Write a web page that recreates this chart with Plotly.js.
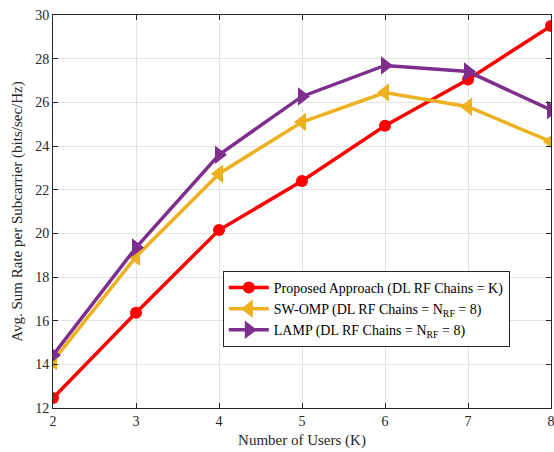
<!DOCTYPE html>
<html>
<head>
<meta charset="utf-8">
<script src="https://cdn.plot.ly/plotly-3.0.1.min.js"></script>
<style>html,body{margin:0;padding:0;background:#fff;}</style>
</head>
<body>
<div id="chart" style="width:554px;height:452px;"></div>
<script>
const users = [2, 3, 4, 5, 6, 7, 8];
const proposed = [12.46, 16.36, 20.15, 22.4, 24.93, 27.05, 29.5];
const swomp = [14.15, 18.93, 22.73, 25.1, 26.45, 25.8, 24.2];
const lamp = [14.42, 19.35, 23.6, 26.27, 27.69, 27.41, 25.65];
const names = [
  'Proposed Approach (DL RF Chains = K)',
  'SW-OMP (DL RF Chains = N<sub>RF</sub> = 8)',
  'LAMP (DL RF Chains = N<sub>RF</sub> = 8)'
];
const xTicks = [2, 3, 4, 5, 6, 7, 8];
const yTicks = [12, 14, 16, 18, 20, 22, 24, 26, 28, 30];

const font = "Liberation Serif";
const traces = [
  {x: users, y: proposed, name: names[0], mode: 'lines+markers',
   line: {color: '#FF0000', width: 3.5},
   marker: {symbol: 'circle', size: 12, color: '#FF0000'}},
  {x: users, y: swomp, name: names[1], mode: 'lines+markers',
   line: {color: '#EDB120', width: 3.5},
   marker: {symbol: 'triangle-left', size: 16, color: '#EDB120'}},
  {x: users, y: lamp, name: names[2], mode: 'lines+markers',
   line: {color: '#7E2F8E', width: 3.5},
   marker: {symbol: 'triangle-right', size: 16, color: '#7E2F8E'}}
];
const axisCommon = {
  showline: true, linecolor: '#262626', linewidth: 1, mirror: 'ticks',
  ticks: 'inside', ticklen: 5, tickcolor: '#262626',
  showgrid: true, gridcolor: '#e3e3e3', gridwidth: 1, zeroline: false,
  ticklabeloverflow: 'allow',
  tickfont: {family: font, size: 14, color: '#262626'}
};
const layout = {
  width: 554, height: 452,
  margin: {l: 53, r: 3, t: 15, b: 44},
  paper_bgcolor: '#fff', plot_bgcolor: '#fff',
  font: {family: font, color: '#262626'},
  showlegend: true,
  xaxis: Object.assign({}, axisCommon, {
    range: [2, 8], tickvals: xTicks, ticktext: xTicks.map(String),
    title: {text: 'Number of Users (K)', font: {family: font, size: 15, color: '#262626'}, standoff: 6}
  }),
  yaxis: Object.assign({}, axisCommon, {
    range: [12, 30], tickvals: yTicks, ticktext: yTicks.map(String),
    title: {text: 'Avg. Sum Rate per Subcarrier (bits/sec/Hz)', font: {family: font, size: 15, color: '#262626'}, standoff: 8}
  }),
  legend: {
    x: 0.341, y: 0.349, xanchor: 'left', yanchor: 'top',
    bgcolor: '#fff', bordercolor: '#262626', borderwidth: 1,
    font: {family: font, size: 14, color: '#000'},
    itemwidth: 40, tracegroupgap: 0
  }
};
Plotly.newPlot('chart', traces, layout, {displayModeBar: false, staticPlot: true});
</script>
</body>
</html>
